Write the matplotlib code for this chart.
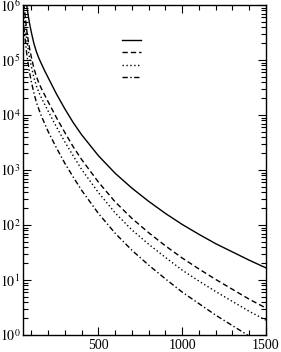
import numpy as np
import matplotlib
matplotlib.use("Agg")
import matplotlib.pyplot as plt
from matplotlib.ticker import LogLocator, MultipleLocator, FixedLocator, NullFormatter

plt.rcParams['font.family'] = ['Liberation Serif', 'DejaVu Serif']
plt.rcParams['mathtext.fontset'] = 'stix'

# Series (y given as log10 of the value)
x_solid = [72, 80, 90, 100, 115, 130, 145, 160, 180, 200, 250, 300, 350, 400, 500,
           600, 700, 800, 900, 1000, 1100, 1200, 1300, 1400, 1500]
log_solid = [6.00, 5.83, 5.65, 5.50, 5.30, 5.15, 5.03, 4.93, 4.80, 4.68, 4.38, 4.11, 3.86, 3.64, 3.26,
             2.94, 2.67, 2.43, 2.21, 2.01, 1.83, 1.66, 1.51, 1.36, 1.22]

x_curves = [55, 72, 80, 90, 100, 115, 130, 145, 160, 180, 200, 250, 300, 350, 400, 500,
            600, 700, 800, 900, 1000, 1100, 1200, 1300, 1400, 1500]
log_dash = [6.02, 5.55, 5.38, 5.20, 5.05, 4.85, 4.70, 4.58, 4.48, 4.36, 4.24, 3.95, 3.68, 3.42, 3.19, 2.78,
            2.42, 2.12, 1.86, 1.62, 1.40, 1.20, 1.01, 0.83, 0.65, 0.49]
log_dot = [5.85, 5.38, 5.21, 5.03, 4.88, 4.68, 4.53, 4.41, 4.31, 4.19, 4.07, 3.78, 3.51, 3.255, 3.01, 2.59,
           2.22, 1.91, 1.65, 1.41, 1.18, 0.98, 0.79, 0.61, 0.43, 0.27]
log_dd = [5.60, 5.12, 4.95, 4.76, 4.60, 4.40, 4.23, 4.10, 3.98, 3.84, 3.70, 3.40, 3.12, 2.87, 2.63, 2.21,
          1.85, 1.54, 1.27, 1.02, 0.78, 0.57, 0.36, 0.17, -0.02, -0.20]

x_major = [500, 1000, 1500]
y_major_exp = [0, 1, 2, 3, 4, 5, 6]

fig = plt.figure(figsize=(2.81, 3.52), dpi=100)
ax = fig.add_axes([23/281, 1 - 335/352, (266-23)/281, (335-5)/352])

lw = 1.0
l1, = ax.plot(x_solid, 10**np.array(log_solid), color='black', lw=lw, linestyle='-')
l2, = ax.plot(x_curves, 10**np.array(log_dash), color='black', lw=lw, linestyle=(0, (3.8, 2.2)))
l3, = ax.plot(x_curves, 10**np.array(log_dot), color='black', lw=lw, linestyle=(0, (1.0, 1.8)))
l4, = ax.plot(x_curves, 10**np.array(log_dd), color='black', lw=lw, linestyle=(0, (3.8, 1.8, 1.0, 1.8)))

ax.set_yscale('log')
ax.set_xlim(50, 1500)
ax.set_ylim(1, 1e6)

ax.xaxis.set_major_locator(FixedLocator(x_major))
ax.xaxis.set_minor_locator(MultipleLocator(100))
ax.set_xticklabels([str(v) for v in x_major])
ax.yaxis.set_major_locator(FixedLocator([10**e for e in y_major_exp]))
ax.set_yticklabels([r'$10^{%d}$' % e for e in y_major_exp])
ax.yaxis.set_minor_locator(LogLocator(base=10, subs=np.arange(2, 10), numticks=20))
ax.yaxis.set_minor_formatter(NullFormatter())

ax.tick_params(which='both', direction='in', top=True, right=True, labelsize=10, width=0.8, colors='black')
ax.tick_params(which='major', length=6)
ax.tick_params(which='minor', length=3.5)
ax.tick_params(axis='x', pad=3)
ax.tick_params(axis='y', pad=2)
for s in ax.spines.values():
    s.set_linewidth(1.0)

leg = ax.legend([l1, l2, l3, l4], ['', '', '', ''], loc='upper left',
                bbox_to_anchor=((122-23)/243, 1 - (35-5)/330), frameon=False,
                handlelength=1.5, handletextpad=0.0, labelspacing=0.04, fontsize=9,
                borderpad=0, borderaxespad=0)

fig.savefig('out.png', dpi=100)
